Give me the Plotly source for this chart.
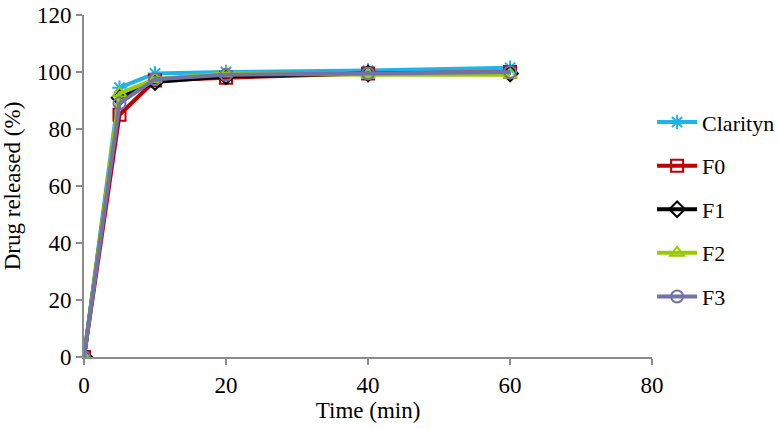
import plotly.graph_objects as go

time = [0, 5, 10, 20, 40, 60]
clarityn = [0, 94.5, 99.5, 100, 100.5, 101.5]
f0 = [0, 85, 97, 98, 99.5, 100]
f1 = [0, 91, 96.5, 98.5, 99.5, 99.5]
f2 = [0, 92.5, 97.5, 99.5, 99, 99]
f3 = [0, 89, 97.5, 99, 99.5, 100]

names = ["Clarityn", "F0", "F1", "F2", "F3"]
values = [clarityn, f0, f1, f2, f3]
colors = ["#1fb4e6", "#c00000", "#000000", "#99cc00", "#7272a8"]
symbols = ["asterisk-open", "square-open", "diamond-open", "triangle-up-open", "circle-open"]

fig = go.Figure()
for name, y, c, s in zip(names, values, colors, symbols):
    fig.add_trace(go.Scatter(x=time, y=y, name=name, mode="lines+markers",
                             legendgroup=name,
                             line=dict(color=c, width=4),
                             marker=dict(symbol=s, size=12, color=c, line=dict(color=c, width=2))))

font = "Liberation Serif"
fs = 23
fig.update_layout(
    width=780, height=429,
    paper_bgcolor="white", plot_bgcolor="white",
    margin=dict(l=84, r=122, t=15, b=72),
    font=dict(family=font, size=fs, color="black"),
    legend=dict(xref="container", yref="container", x=0.836, y=0.764,
                xanchor="left", yanchor="top", tracegroupgap=12,
                font=dict(family=font, size=22), itemwidth=40),
    xaxis=dict(title=dict(text="Time (min)", font=dict(family=font, size=fs), standoff=4),
               range=[0, 80], dtick=20, showgrid=False, zeroline=False, automargin=False,
               showline=True, linecolor="#8c8c8c", linewidth=2, ticklabeloverflow="allow",
               ticks="outside", ticklen=6, tickcolor="#8c8c8c", tickwidth=2,
               tickfont=dict(family=font, size=fs)),
    yaxis=dict(title=dict(text="Drug released (%)", font=dict(family=font, size=fs), standoff=22),
               range=[0, 120], dtick=20, showgrid=False, zeroline=False, automargin=False,
               showline=True, linecolor="#8c8c8c", linewidth=2, ticklabeloverflow="allow",
               ticks="outside", ticklen=6, tickcolor="#8c8c8c", tickwidth=2,
               tickfont=dict(family=font, size=fs)),
)

# drop the default page margin so the figure fills the window
fig.write_html("out.html", config={"displayModeBar": False},
               post_script="document.body.style.margin='0';")
